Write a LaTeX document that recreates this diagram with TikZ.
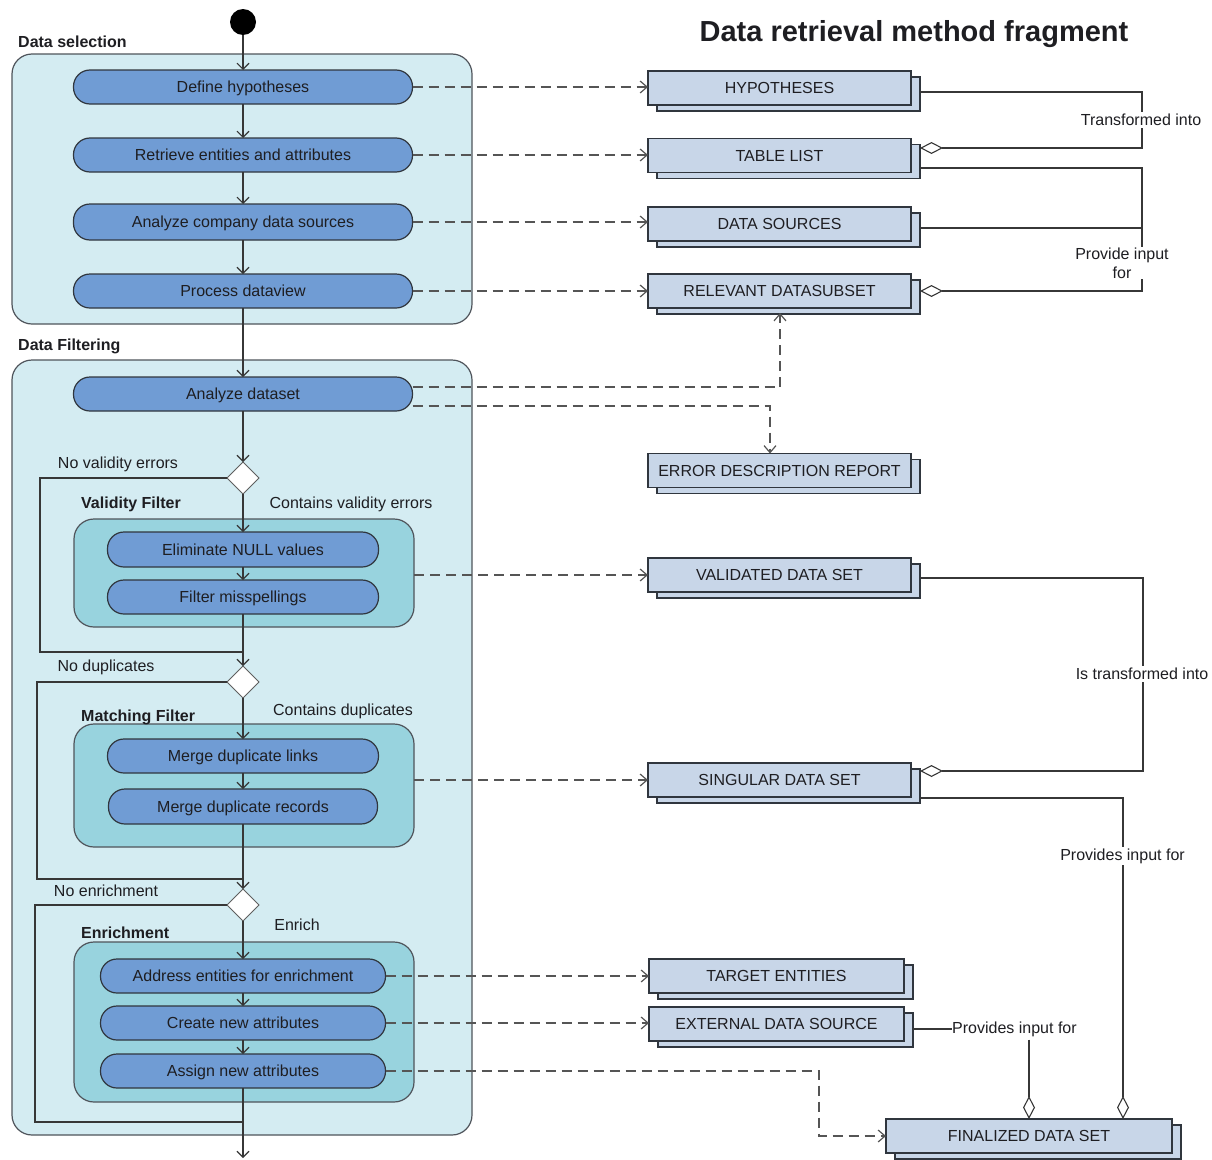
\documentclass[tikz,border=0pt]{standalone}
\usepackage{fontspec}
\setmainfont{Liberation Sans}
\usetikzlibrary{arrows.meta,shapes.geometric,shadows,calc}

\definecolor{lanefill}{RGB}{212,236,242}
\definecolor{groupfill}{RGB}{152,211,222}
\definecolor{actfill}{RGB}{112,156,212}
\definecolor{objfill}{RGB}{200,214,232}
\definecolor{edgec}{RGB}{48,54,62}
\definecolor{wirec}{RGB}{55,55,55}
\definecolor{dashc}{RGB}{85,85,85}
\definecolor{inkc}{RGB}{30,30,34}

\begin{document}
\begin{tikzpicture}[x=1pt,y=-1pt,
  font=\fontsize{16}{19}\selectfont,
  lane/.style={draw=edgec!85, line width=1.2pt, fill=lanefill, rounded corners=20pt, inner sep=0pt, outer sep=0pt},
  group/.style={draw=edgec!85, line width=1.2pt, fill=groupfill, rounded corners=20pt, inner sep=0pt, outer sep=0pt},
  act/.style={draw=edgec, line width=1.2pt, fill=actfill, rounded corners=16.5pt, minimum height=34pt, inner sep=0pt, outer sep=0pt, text=inkc,
    text height=11.5pt, text depth=0pt},
  obj/.style={draw=edgec, line width=1.2pt, fill=objfill, minimum height=34pt, inner sep=0pt, outer sep=0pt, text=inkc,
    text height=11.5pt, text depth=0pt, copy shadow={shadow xshift=9pt, shadow yshift=-6pt}},
  choice/.style={diamond, draw=wirec!80, line width=1pt, fill=white, minimum width=32pt, minimum height=32pt, inner sep=0pt, outer sep=0pt},
  grouplbl/.style={anchor=west, inner sep=1pt, font=\fontsize{16}{19}\selectfont\bfseries, text=inkc},
  lbl/.style={inner sep=1pt, text=inkc},
  tag/.style={fill=white, inner sep=2pt, text=inkc, align=center},
  wireln/.style={draw=wirec, line width=1.1pt},
  flow/.style={wireln, -{Straight Barb[length=6pt,width=12pt]}},
  dep/.style={draw=dashc, line width=1.2pt, dash pattern=on 10pt off 6pt, -{Straight Barb[length=7pt,width=12pt]}},
  aggr/.style={wireln, -{Diamond[length=23pt,width=12pt,fill=white]}}
]
\useasboundingbox (0,0) rectangle (1212,1159);

% ---------- title ----------
\node[font=\fontsize{29}{34}\selectfont\bfseries, text=inkc, text height=21pt, text depth=0pt, inner sep=0pt] (title) at (914,31) {Data retrieval method fragment};

% ---------- swimlane containers ----------
\node[lane, minimum width=460pt, minimum height=270pt] (selbox) at (242,189) {};
\node[lane, minimum width=460pt, minimum height=775pt] (filbox) at (242,747.5) {};
\node[grouplbl] (sellbl) at (17,42) {Data selection};
\node[grouplbl] (fillbl) at (17,346) {Data Filtering};

\node[group, minimum width=340pt, minimum height=108pt] (valbox) at (244,573) {};
\node[group, minimum width=340pt, minimum height=123pt] (matbox) at (244,785.5) {};
\node[group, minimum width=340pt, minimum height=160pt] (enrbox) at (244,1022) {};
\node[grouplbl] (vallbl) at (80,504) {Validity Filter};
\node[grouplbl] (matlbl) at (80,717) {Matching Filter};
\node[grouplbl] (enrlbl) at (80,933) {Enrichment};

% ---------- activities ----------
\node[circle, fill=black, minimum size=26pt, inner sep=0pt] (start) at (243,22) {};

\node[act, minimum width=339pt] (def) at (243,87) {Define hypotheses};
\node[act, minimum width=339pt] (ret) at (243,155) {Retrieve entities and attributes};
\node[act, minimum width=339pt, minimum height=36pt] (anc) at (243,222) {Analyze company data sources};
\node[act, minimum width=339pt] (pdv) at (243,291) {Process dataview};
\node[act, minimum width=339pt] (ads) at (243,394) {Analyze dataset};

\node[choice] (d1) at (243,478) {};
\node[act, minimum width=271pt, minimum height=35pt] (enull) at (243,549.5) {Eliminate NULL values};
\node[act, minimum width=271pt] (fmis) at (243,597) {Filter misspellings};

\node[choice] (d2) at (243,682) {};
\node[act, minimum width=271pt] (mdl) at (243,756) {Merge duplicate links};
\node[act, minimum width=269pt, minimum height=35pt] (mdr) at (243,806.5) {Merge duplicate records};

\node[choice] (d3) at (243,905) {};
\node[act, minimum width=285pt] (aef) at (243,976) {Address entities for enrichment};
\node[act, minimum width=285pt] (cna) at (243,1023) {Create new attributes};
\node[act, minimum width=285pt] (ana) at (243,1071) {Assign new attributes};

% guard labels
\node[lbl] (g1n) at (118,464) {No validity errors};
\node[lbl] (g1y) at (351,504) {Contains validity errors};
\node[lbl] (g2n) at (106,667) {No duplicates};
\node[lbl] (g2y) at (343,711) {Contains duplicates};
\node[lbl] (g3n) at (106,891) {No enrichment};
\node[lbl] (g3y) at (297,925) {Enrich};

% ---------- control flow ----------
\coordinate (j1) at (243,652);
\coordinate (j2) at (243,879);
\coordinate (j3) at (243,1122);
\coordinate (exit) at (243,1158);

\draw[flow] (start) -- (def);
\draw[flow] (def) -- (ret);
\draw[flow] (ret) -- (anc);
\draw[flow] (anc) -- (pdv);
\draw[flow] (pdv) -- (ads);
\draw[flow] (ads) -- (d1);
\draw[flow] (d1) -- (enull);
\draw[flow] (enull) -- (fmis);
\draw[flow] (fmis) -- (d2);
\draw[flow] (d2) -- (mdl);
\draw[flow] (mdl) -- (mdr);
\draw[flow] (mdr) -- (d3);
\draw[flow] (d3) -- (aef);
\draw[flow] (aef) -- (cna);
\draw[flow] (cna) -- (ana);
\draw[flow] (ana) -- (exit);

\draw[wireln] (d1.west) -- ++(-187,0) |- (j1);
\draw[wireln] (d2.west) -- ++(-190,0) |- (j2);
\draw[wireln] (d3.west) -- ++(-192,0) |- (j3);

% ---------- artefacts ----------
\node[obj, minimum width=263pt] (hyp) at (779.5,88) {HYPOTHESES};
\node[obj, minimum width=263pt] (tbl) at (779.5,155.5) {TABLE LIST};
\node[obj, minimum width=263pt] (dsrc) at (779.5,224) {DATA SOURCES};
\node[obj, minimum width=263pt] (rel) at (779.5,291) {RELEVANT DATASUBSET};
\node[obj, minimum width=263pt] (err) at (779.5,470.5) {ERROR DESCRIPTION REPORT};
\node[obj, minimum width=263pt] (valid) at (779.5,575) {VALIDATED DATA SET};
\node[obj, minimum width=263pt] (sing) at (779.5,780) {SINGULAR DATA SET};
\node[obj, minimum width=255pt] (targ) at (776.5,976) {TARGET ENTITIES};
\node[obj, minimum width=255pt] (ext) at (776.5,1024) {EXTERNAL DATA SOURCE};
\node[obj, minimum width=286pt] (fin) at (1029,1136) {FINALIZED DATA SET};

% ---------- object flows (dashed) ----------
\draw[dep] (def.east) -- (def.east -| hyp.west);
\draw[dep] (ret.east) -- (ret.east -| tbl.west);
\draw[dep] (anc.east) -- (anc.east -| dsrc.west);
\draw[dep] (pdv.east) -- (pdv.east -| rel.west);
\draw[dep] ([yshift=7pt]ads.east) -| ([xshift=0.5pt,yshift=-5pt]rel.south);
\draw[dep] ([yshift=-12pt]ads.east) -| ([xshift=-9.5pt]err.north);
\draw[dep] (valbox.east |- valid.west) -- (valid.west);
\draw[dep] (matbox.east |- sing.west) -- (sing.west);
\draw[dep] (aef.east) -- (aef.east -| targ.west);
\draw[dep] (cna.east) -- (cna.east -| ext.west);
\draw[dep] (ana.east) -| ($(fin.west)+(-67,0)$) -- (fin.west);

% ---------- associations between artefacts ----------
\draw[aggr] ([xshift=9pt,yshift=-4pt]hyp.east) -- ++(222,0) |- ([xshift=9pt,yshift=7.5pt]tbl.east);
\node[tag] (t1) at (1141,120) {Transformed into};

\draw[aggr] ([xshift=9pt,yshift=-12.5pt]tbl.east) -- ++(222,0) |- ([xshift=9pt]rel.east);
\draw[wireln] ([xshift=9pt,yshift=-4pt]dsrc.east) -- ++(222,0);
\node[tag, inner sep=1pt] (t2) at (1122,263) {Provide input\\for};

\draw[aggr] ([xshift=9pt,yshift=-3pt]valid.east) -- ++(223,0) |- ([xshift=9pt,yshift=9pt]sing.east);
\node[tag] (t3) at (1142,674) {Is transformed into};

\draw[aggr] ([xshift=9pt,yshift=-18pt]sing.east) -| ([xshift=94pt]fin.north);
\node[tag] (t4) at (1122.5,856) {Provides input for};

\node[lbl, anchor=west, inner sep=0pt] (t5) at (952,1029) {Provides input for};
\draw[wireln] ([xshift=9pt,yshift=-5pt]ext.east) -- (t5.west);
\draw[aggr] ([yshift=-3pt]t5.south -| fin.north) -- (fin.north);

\end{tikzpicture}
\end{document}
